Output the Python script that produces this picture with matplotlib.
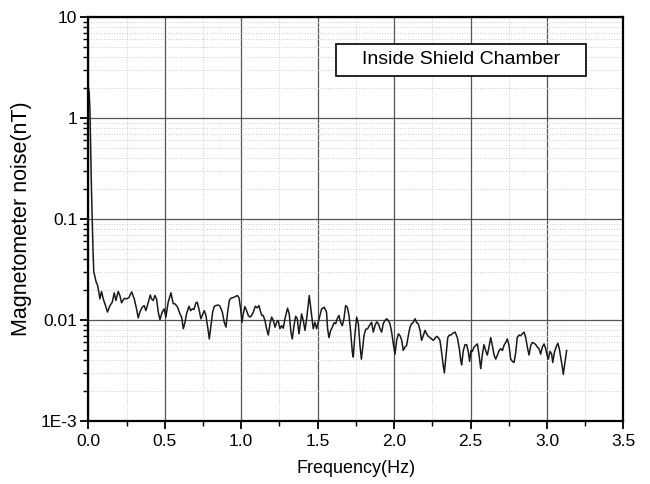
import numpy as np
import matplotlib
matplotlib.use('Agg')
import matplotlib.pyplot as plt
from matplotlib.ticker import FixedLocator, FixedFormatter, MultipleLocator, LogLocator, NullFormatter
from matplotlib.patches import Rectangle

plt.rcParams['font.family'] = ['Liberation Sans', 'DejaVu Sans']

# frequency (Hz) and magnetometer noise (nT)
freq = [0.000, 0.005, 0.010, 0.015, 0.020, 0.025, 0.030, 0.035, 0.040, 0.050, 0.060, 0.068,
        0.075, 0.086, 0.097, 0.112, 0.125, 0.141, 0.156, 0.169, 0.180, 0.195, 0.206, 0.217,
        0.235, 0.250, 0.265, 0.283, 0.300, 0.315, 0.326, 0.337, 0.352, 0.365, 0.376, 0.392,
        0.405, 0.413, 0.424, 0.435, 0.446, 0.457, 0.468, 0.483, 0.496, 0.507, 0.522, 0.540,
        0.555, 0.566, 0.584, 0.599, 0.610,
        0.621, 0.632, 0.642, 0.658, 0.669, 0.680, 0.690, 0.704, 0.712, 0.723, 0.736, 0.747,
        0.758, 0.769, 0.782, 0.791, 0.802, 0.813, 0.824, 0.834, 0.850, 0.861, 0.876, 0.889,
        0.900, 0.911, 0.922, 0.930, 0.948, 0.963, 0.974, 0.985, 0.996, 1.005, 1.013, 1.024,
        1.035, 1.046, 1.057, 1.068, 1.079, 1.092, 1.105, 1.116, 1.127, 1.135, 1.144, 1.155,
        1.166, 1.177, 1.188, 1.199, 1.210, 1.221,
        1.232, 1.242, 1.253, 1.264, 1.275, 1.286, 1.303, 1.314, 1.325, 1.334, 1.345, 1.356,
        1.366, 1.378, 1.389, 1.395, 1.406, 1.417, 1.428, 1.445, 1.461, 1.471, 1.482, 1.493,
        1.504, 1.515, 1.526, 1.543, 1.558, 1.565, 1.574, 1.585, 1.596, 1.607, 1.618, 1.628,
        1.639, 1.650, 1.661, 1.672, 1.683, 1.694, 1.705, 1.716, 1.727, 1.733, 1.744, 1.755,
        1.766, 1.777, 1.786, 1.794, 1.803, 1.814, 1.827, 1.838, 1.853,
        1.864, 1.875, 1.886, 1.897, 1.908, 1.919, 1.929, 1.940, 1.952, 1.962, 1.973, 1.984,
        1.995, 2.006, 2.017, 2.028, 2.039, 2.050, 2.060, 2.071, 2.082, 2.093, 2.104, 2.115,
        2.126, 2.137, 2.148, 2.158, 2.170, 2.180, 2.191, 2.202, 2.213, 2.224, 2.235, 2.246,
        2.257, 2.268, 2.279, 2.289, 2.300, 2.311, 2.322, 2.329, 2.340, 2.351, 2.361, 2.372,
        2.384, 2.399, 2.414, 2.427, 2.436, 2.442, 2.453, 2.464, 2.475,
        2.486, 2.494, 2.503, 2.512, 2.523, 2.534, 2.545, 2.556, 2.567, 2.577, 2.588, 2.599,
        2.610, 2.621, 2.632, 2.643, 2.654, 2.665, 2.676, 2.687, 2.698, 2.709, 2.719, 2.730,
        2.741, 2.752, 2.763, 2.774, 2.785, 2.796, 2.806, 2.817, 2.828, 2.839, 2.850, 2.861,
        2.872, 2.883, 2.894, 2.904, 2.916, 2.927, 2.937, 2.948, 2.959, 2.970, 2.981, 2.992,
        3.001, 3.009, 3.020, 3.031, 3.038, 3.049, 3.060, 3.071, 3.081, 3.092, 3.101, 3.107,
        3.118, 3.129]

noise = [2.0, 1.8, 1.2, 0.5, 0.2, 0.1, 0.05, 0.03, 0.028, 0.024, 0.022, 0.019,
         0.0162, 0.0192, 0.0162, 0.0139, 0.0120, 0.0139, 0.0150, 0.0186, 0.0156, 0.0192, 0.0175, 0.0148,
         0.0164, 0.0162, 0.0167, 0.0190, 0.0162, 0.0129, 0.0105, 0.0120, 0.0134, 0.0139, 0.0124, 0.0150,
         0.0177, 0.0162, 0.0156, 0.0175, 0.0162, 0.0120, 0.0101, 0.0120, 0.0129, 0.0107, 0.0150, 0.0186,
         0.0145, 0.0145, 0.0134, 0.0115, 0.0107,
         0.0082, 0.0095, 0.0115, 0.0137, 0.0124, 0.0129, 0.0127, 0.0148, 0.0150, 0.0129, 0.0103, 0.0113,
         0.0124, 0.0111, 0.0082, 0.0065, 0.0088, 0.0120, 0.0137, 0.0139, 0.0141, 0.0137, 0.0120, 0.0095,
         0.0085, 0.0120, 0.0156, 0.0164, 0.0167, 0.0171, 0.0175, 0.0167, 0.0129, 0.0095, 0.0115, 0.0136,
         0.0124, 0.0111, 0.0107, 0.0111, 0.0120, 0.0137, 0.0132, 0.0139, 0.0120, 0.0111, 0.0111, 0.0099,
         0.0082, 0.0071, 0.0092, 0.0107, 0.0099, 0.0085,
         0.0095, 0.0099, 0.0082, 0.0088, 0.0083, 0.0103, 0.0131, 0.0115, 0.0076, 0.0065, 0.0088, 0.0109,
         0.0104, 0.0073, 0.0099, 0.0115, 0.0099, 0.0079, 0.0103, 0.0175, 0.0111, 0.0082, 0.0095, 0.0082,
         0.0095, 0.0111, 0.0129, 0.0134, 0.0120, 0.0082, 0.0067, 0.0079, 0.0085, 0.0094, 0.0092, 0.0103,
         0.0111, 0.0095, 0.0088, 0.0103, 0.0139, 0.0134, 0.0111, 0.0076, 0.0048, 0.0043, 0.0073, 0.0107,
         0.0092, 0.0056, 0.0041, 0.0052, 0.0070, 0.0081, 0.0082, 0.0088, 0.0095,
         0.0076, 0.0088, 0.0096, 0.0092, 0.0082, 0.0076, 0.0092, 0.0099, 0.0103, 0.0099, 0.0092, 0.0076,
         0.0058, 0.0046, 0.0063, 0.0073, 0.0070, 0.0063, 0.0050, 0.0054, 0.0056, 0.0070, 0.0085, 0.0092,
         0.0095, 0.0103, 0.0094, 0.0092, 0.0079, 0.0063, 0.0070, 0.0079, 0.0073, 0.0069, 0.0067, 0.0065,
         0.0063, 0.0066, 0.0069, 0.0067, 0.0063, 0.0048, 0.0035, 0.0030, 0.0045, 0.0067, 0.0071, 0.0071,
         0.0074, 0.0076, 0.0067, 0.0052, 0.0040, 0.0036, 0.0050, 0.0057, 0.0057,
         0.0048, 0.0039, 0.0050, 0.0049, 0.0054, 0.0056, 0.0058, 0.0045, 0.0033, 0.0045, 0.0057, 0.0050,
         0.0045, 0.0054, 0.0067, 0.0056, 0.0045, 0.0041, 0.0045, 0.0050, 0.0052, 0.0050, 0.0056, 0.0060,
         0.0065, 0.0056, 0.0041, 0.0039, 0.0038, 0.0048, 0.0067, 0.0071, 0.0070, 0.0073, 0.0076, 0.0067,
         0.0054, 0.0045, 0.0056, 0.0060, 0.0059, 0.0057, 0.0054, 0.0052, 0.0046, 0.0054, 0.0058, 0.0052,
         0.0045, 0.0041, 0.0049, 0.0046, 0.0038, 0.0048, 0.0054, 0.0059, 0.0052, 0.0041, 0.0034, 0.0029,
         0.0038, 0.0050]

y_ticks = [1e-3, 1e-2, 1e-1, 1, 10]
y_tick_labels = ['1E-3', '0.01', '0.1', '1', '10']
label_text = 'Inside Shield Chamber'

fig = plt.figure(figsize=(6.5, 4.84), dpi=100)
ax = fig.add_axes([0.136, 0.130, 0.823, 0.835])

ax.plot(freq, noise, color='#1a1a1a', lw=1.1)

ax.set_yscale('log')
ax.set_xlim(0, 3.5)
ax.set_ylim(1e-3, 10)

ax.xaxis.set_major_locator(MultipleLocator(0.5))
ax.xaxis.set_minor_locator(MultipleLocator(0.25))
ax.xaxis.set_major_formatter(plt.FuncFormatter(lambda v, p: f'{v:.1f}'))
ax.yaxis.set_major_locator(FixedLocator(y_ticks))
ax.yaxis.set_major_formatter(FixedFormatter(y_tick_labels))
ax.yaxis.set_minor_locator(LogLocator(base=10, subs=np.arange(2, 10)))
ax.yaxis.set_minor_formatter(NullFormatter())

ax.grid(which='major', color='#555555', lw=0.9, ls='-')
ax.grid(which='minor', color='#cccccc', lw=0.7, ls=':')
ax.set_axisbelow(True)

ax.tick_params(which='major', direction='out', length=6, width=1.3, labelsize=12.5, colors='black')
ax.tick_params(which='major', axis='y', pad=2)
ax.tick_params(which='minor', direction='out', length=3.5, width=1.0)
for s in ax.spines.values():
    s.set_linewidth(1.6)
    s.set_color('black')

ax.set_xlabel('Frequency(Hz)', fontsize=13, labelpad=8)
ax.set_ylabel('Magnetometer noise(nT)', fontsize=15.5, labelpad=6)

ax.add_patch(Rectangle((0.4626, 0.854), 0.467, 0.079, transform=ax.transAxes,
                       facecolor='white', edgecolor='black', lw=1.2, zorder=5))
ax.text(0.696, 0.8935, label_text, transform=ax.transAxes, ha='center', va='center',
        fontsize=14, zorder=6)

fig.savefig('out.png', dpi=100)
